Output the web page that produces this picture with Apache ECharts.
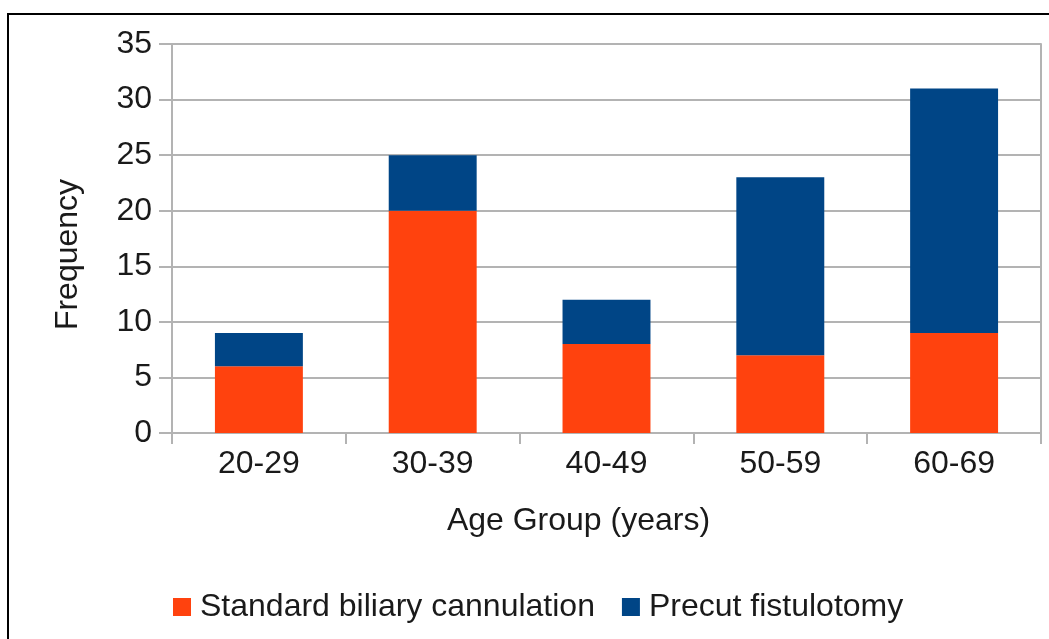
<!DOCTYPE html>
<html>
<head>
<meta charset="utf-8">
<script src="https://cdn.jsdelivr.net/npm/echarts@6/dist/echarts.min.js"></script>
<style>html,body{margin:0;padding:0;background:#fff}#c{width:1049px;height:639px}</style>
</head>
<body>
<div id="c"></div>
<script>
const categories = ['20-29', '30-39', '40-49', '50-59', '60-69'];
const standard = [6, 20, 8, 7, 9];
const precut = [3, 5, 4, 16, 22];
const yTicks = { min: 0, max: 35, interval: 5 };

const FONT = 'Liberation Sans';
const FS = 32;
const TXT = '#1a1a1a';
const GRID = '#b3b3b3';
const chart = echarts.init(document.getElementById('c'));
chart.setOption({
  animation: false,
  textStyle: { fontFamily: FONT },
  graphic: [{
    type: 'rect', shape: { x: 8, y: 14, width: 1200, height: 800 },
    style: { fill: 'none', stroke: '#000', lineWidth: 2 }, silent: true
  }],
  grid: { left: 172, right: 8, top: 44, bottom: 206 },
  legend: {
    left: 173, top: 591, padding: 0, itemWidth: 18, itemHeight: 18, itemGap: 27,
    icon: 'rect',
    textStyle: { fontSize: FS, color: TXT, fontFamily: FONT, padding: [0, 0, 0, 4] },
    data: ['Standard biliary cannulation', 'Precut fistulotomy']
  },
  xAxis: {
    type: 'category', data: categories,
    name: 'Age Group (years)', nameLocation: 'middle', nameGap: 72,
    nameTextStyle: { fontSize: FS, color: TXT, fontFamily: FONT, padding: [0, 56, 0, 0] },
    axisLine: { lineStyle: { color: GRID, width: 2 } },
    axisTick: { show: true, length: 11, lineStyle: { color: GRID, width: 2 } },
    axisLabel: { fontSize: FS, color: TXT, margin: 15, fontFamily: FONT },
    splitLine: { show: false }
  },
  yAxis: [{
    type: 'value', min: yTicks.min, max: yTicks.max, interval: yTicks.interval,
    name: 'Frequency', nameLocation: 'middle', nameRotate: 90, nameGap: 88,
    nameTextStyle: { fontSize: FS, color: TXT, fontFamily: FONT, padding: [0, 32, 0, 0] },
    axisLine: { show: true, lineStyle: { color: GRID, width: 2 } },
    axisTick: { show: true, length: 13, lineStyle: { color: GRID, width: 2 } },
    axisLabel: { fontSize: FS, color: TXT, margin: 20, fontFamily: FONT },
    splitLine: { show: true, lineStyle: { color: GRID, width: 2 } }
  }, {
    type: 'value', position: 'right', min: yTicks.min, max: yTicks.max, interval: yTicks.interval,
    axisLine: { show: true, lineStyle: { color: GRID, width: 2 } },
    axisTick: { show: false }, axisLabel: { show: false }, splitLine: { show: false }
  }],
  series: [{
    name: 'Standard biliary cannulation', type: 'bar', stack: 'a', barWidth: '50.6%',
    data: standard, itemStyle: { color: '#ff420e' }
  }, {
    name: 'Precut fistulotomy', type: 'bar', stack: 'a', barWidth: '50.6%',
    data: precut, itemStyle: { color: '#004586' }
  }]
});
</script>
</body>
</html>
